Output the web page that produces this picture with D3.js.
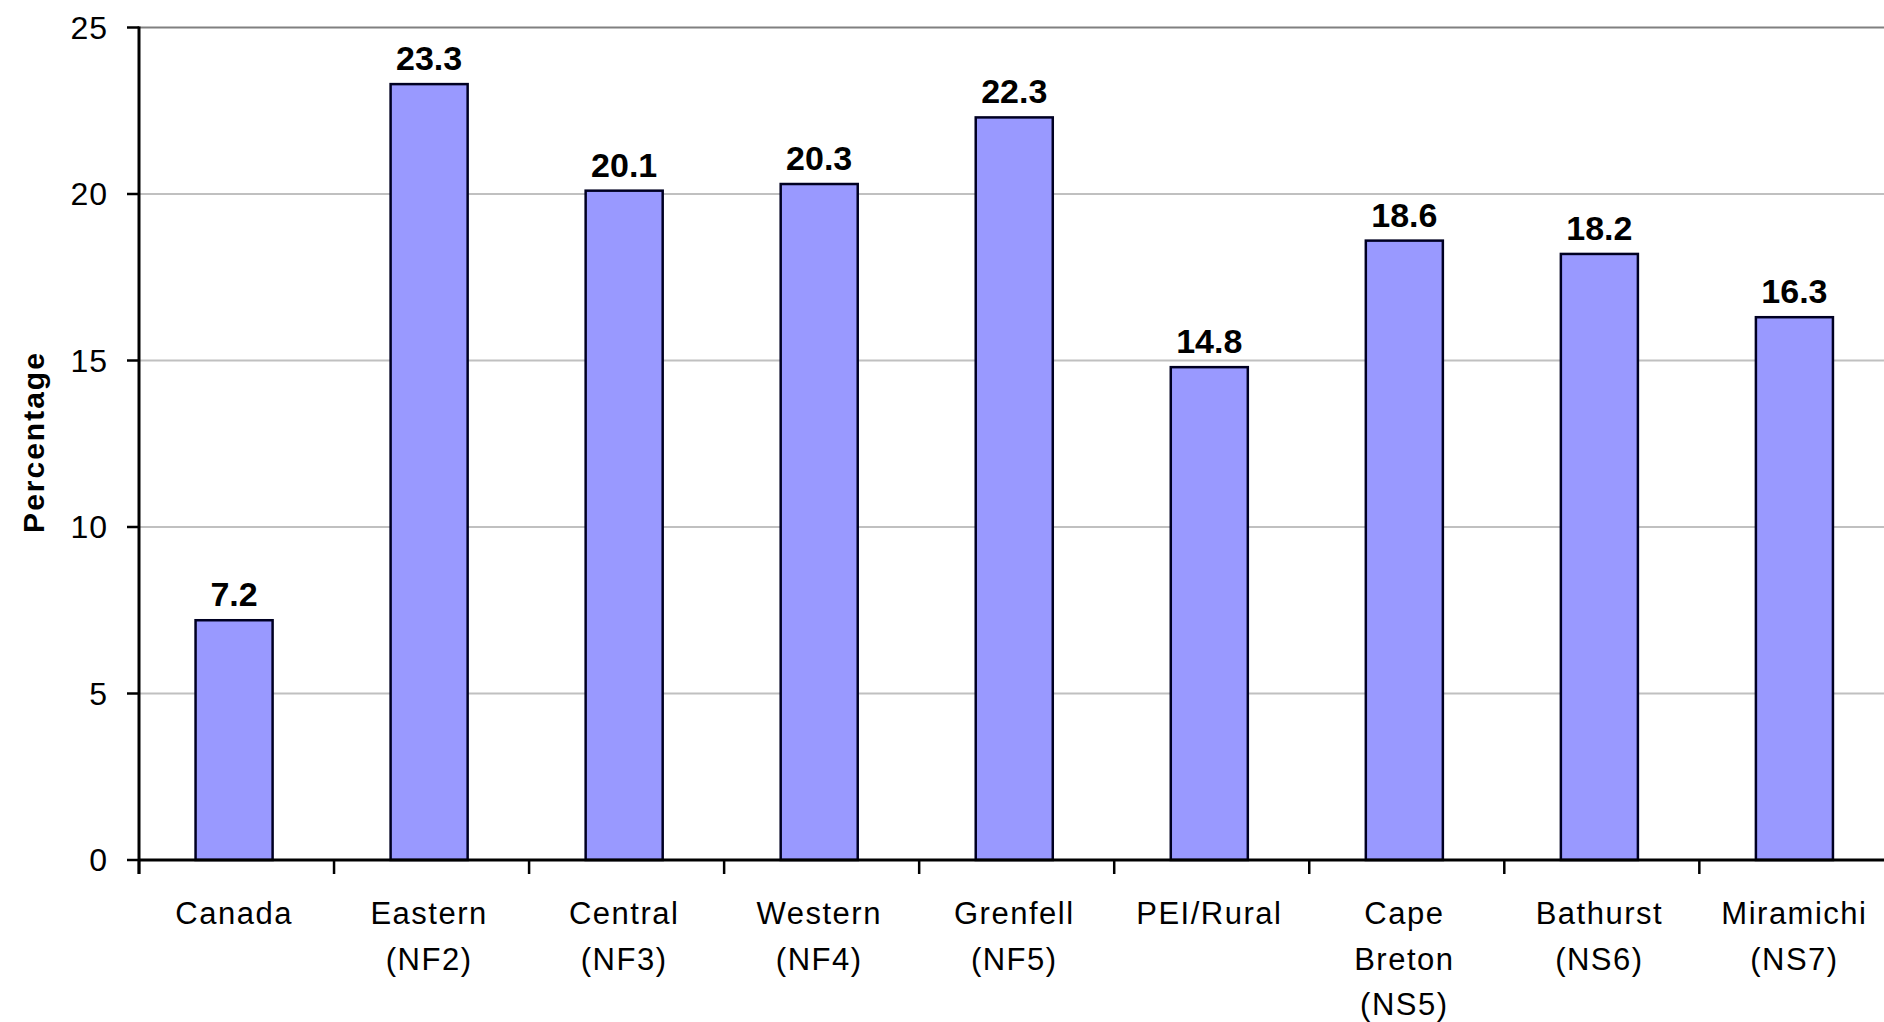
<!DOCTYPE html>
<html>
<head>
<meta charset="utf-8">
<script src="https://cdn.jsdelivr.net/npm/d3@7"></script>
<style>
  html, body { margin: 0; padding: 0; background: #ffffff; overflow: hidden; }
  svg { display: block; font-family: "Liberation Sans", Arial, sans-serif; }
</style>
</head>
<body>
<svg id="chart" width="1884" height="1022"></svg>
<script>
const categories = ["Canada", "Eastern (NF2)", "Central (NF3)", "Western (NF4)", "Grenfell (NF5)", "PEI/Rural", "Cape Breton (NS5)", "Bathurst (NS6)", "Miramichi (NS7)"];
const categoryLines = [["Canada"], ["Eastern", "(NF2)"], ["Central", "(NF3)"], ["Western", "(NF4)"], ["Grenfell", "(NF5)"], ["PEI/Rural"], ["Cape", "Breton", "(NS5)"], ["Bathurst", "(NS6)"], ["Miramichi", "(NS7)"]];
const values = [7.2, 23.3, 20.1, 20.3, 22.3, 14.8, 18.6, 18.2, 16.3];
const yTicks = [0, 5, 10, 15, 20, 25];
const yTitle = "Percentage";

(function () {
const svg = d3.select("#chart");
const pLeft = 139, pRight = 1889.5, pTop = 27.5, pBottom = 860;

const x = d3.scaleBand().domain(categories).range([pLeft, pRight]).paddingInner(0.605).paddingOuter(0.29);
const y = d3.scaleLinear().domain([0, 25]).range([pBottom, pTop]);
const step = x.step();

// gridlines
svg.append("g").selectAll("line").data(yTicks.filter(t => t > 0)).join("line")
  .attr("x1", pLeft).attr("x2", 1884)
  .attr("y1", d => y(d)).attr("y2", d => y(d))
  .attr("stroke", d => d === 25 ? "#808080" : "#c0c0c0")
  .attr("stroke-width", 2);

// bars
svg.append("g").selectAll("rect").data(values).join("rect")
  .attr("x", (d, i) => x(categories[i]))
  .attr("y", d => y(d))
  .attr("width", x.bandwidth())
  .attr("height", d => pBottom - y(d))
  .attr("fill", "#9999ff")
  .attr("stroke", "#000022")
  .attr("stroke-width", 2.5);

// value labels
svg.append("g").selectAll("text").data(values).join("text")
  .attr("x", (d, i) => x(categories[i]) + x.bandwidth() / 2)
  .attr("y", d => y(d) - 14)
  .attr("text-anchor", "middle")
  .attr("font-size", 34)
  .attr("font-weight", "bold")
  .attr("fill", "#000")
  .text(d => d.toFixed(1));

// y axis
svg.append("line").attr("x1", pLeft).attr("x2", pLeft).attr("y1", pTop - 1).attr("y2", pBottom + 14)
  .attr("stroke", "#000").attr("stroke-width", 3);
svg.append("g").selectAll("line").data(yTicks).join("line")
  .attr("x1", pLeft - 12).attr("x2", pLeft)
  .attr("y1", d => y(d)).attr("y2", d => y(d))
  .attr("stroke", "#000").attr("stroke-width", 2.5);
svg.append("g").selectAll("text").data(yTicks).join("text")
  .attr("x", 108).attr("y", d => y(d) + 11)
  .attr("text-anchor", "end")
  .attr("font-size", 32)
  .attr("letter-spacing", 1)
  .attr("fill", "#000")
  .text(d => d);

// x axis
svg.append("line").attr("x1", pLeft).attr("x2", 1884).attr("y1", pBottom).attr("y2", pBottom)
  .attr("stroke", "#000").attr("stroke-width", 3);
const boundaries = d3.range(categories.length).map(i => pLeft + i * step);
svg.append("g").selectAll("line").data(boundaries).join("line")
  .attr("x1", d => d).attr("x2", d => d)
  .attr("y1", pBottom).attr("y2", pBottom + 14)
  .attr("stroke", "#000").attr("stroke-width", 2.5);

// category labels
const lab = svg.append("g").selectAll("text").data(categoryLines).join("text")
  .attr("text-anchor", "middle")
  .attr("font-size", 31)
  .attr("letter-spacing", 1.5)
  .attr("fill", "#000");
lab.each(function(lines, i) {
  const cx = x(categories[i]) + x.bandwidth() / 2;
  d3.select(this).selectAll("tspan").data(lines).join("tspan")
    .attr("x", cx)
    .attr("y", (d, j) => 924 + j * 45.5)
    .text(d => d);
});

// y title
svg.append("text")
  .attr("transform", "translate(44,442) rotate(-90)")
  .attr("text-anchor", "middle")
  .attr("font-size", 30)
  .attr("font-weight", "bold")
  .attr("letter-spacing", 2)
  .attr("fill", "#000")
  .text(yTitle);
})();
</script>
</body>
</html>
